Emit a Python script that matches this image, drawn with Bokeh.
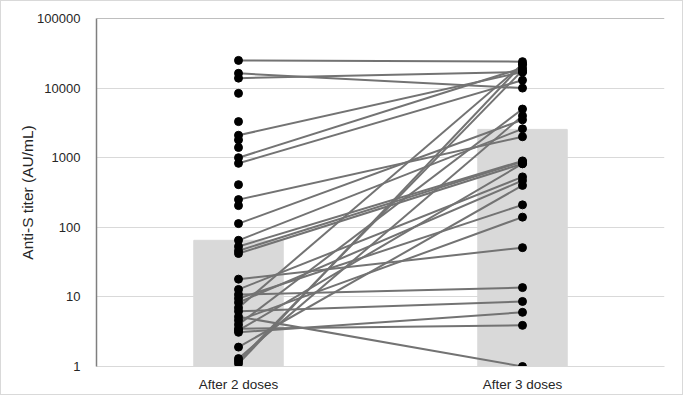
from bokeh.plotting import figure
from bokeh.models import FixedTicker, PrintfTickFormatter, Span
from bokeh.embed import file_html
from bokeh.resources import INLINE

categories = ["After 2 doses", "After 3 doses"]
bar_values = [65, 2550]

# paired subjects: titer after 2 doses -> after 3 doses
pre_paired = [25000, 16300, 13900, 2100, 1000, 830, 250, 113, 65, 53, 46, 42, 18,
              12.8, 10.8, 9.5, 8.3, 7.0, 6.2, 5.2, 4.6, 4.0, 3.5, 3.1, 3.3, 1.9, 1.3, 1.1, 1.2]
post_paired = [24000, 10000, 17000, 17000, 19500, 13000, 2000, 3500, 2600, 900, 880, 820, 51,
               530, 13.6, 210, 470, 22000, 8.6, 1.0, 140, 5000, 3.9, 6.0, 820, 400, 4000, 22000, 18000]
# subjects with a value after 2 doses only
pre_only = [8400, 3300, 1800, 1400, 410, 205]

p = figure(x_range=categories, y_axis_type="log", y_range=(1, 100000),
           frame_width=568, frame_height=348, output_backend="svg", toolbar_location=None,
           min_border_left=95, min_border_right=18, min_border_top=17, min_border_bottom=0)
p.styles = {"border": "1px solid #d9d9d9"}

p.vbar(x=categories, top=bar_values, bottom=1, width=0.315, color="#d9d9d9")

xs = [[categories[0], categories[1]] for _ in pre_paired]
ys = [[a, b] for a, b in zip(pre_paired, post_paired)]
p.multi_line(xs=xs, ys=ys, line_color="#737373", line_width=2)

left_pts = pre_paired + pre_only
p.scatter(x=[categories[0]] * len(left_pts), y=left_pts, size=8, color="black")
p.scatter(x=[categories[1]] * len(post_paired), y=post_paired, size=8, color="black")

p.add_layout(Span(location=100000, dimension="width", line_color="#7f7f7f", line_width=1))

p.yaxis.ticker = FixedTicker(ticks=[1, 10, 100, 1000, 10000, 100000])
p.yaxis.formatter = PrintfTickFormatter(format="%d")
p.yaxis.minor_tick_line_color = None
p.yaxis.major_tick_line_color = None
p.yaxis.axis_line_color = "#7f7f7f"
p.yaxis.axis_line_width = 1.5
p.yaxis.axis_label = "Anti-S titer (AU/mL)"
p.yaxis.axis_label_text_font = "Liberation Sans"
p.yaxis.axis_label_text_font_style = "normal"
p.yaxis.axis_label_text_font_size = "15.5px"
p.yaxis.axis_label_text_color = "#262626"
p.yaxis.axis_label_standoff = -2
p.yaxis.major_label_text_font = "Liberation Sans"
p.yaxis.major_label_text_font_size = "13px"
p.yaxis.major_label_text_color = "#262626"
p.yaxis.major_label_standoff = 10

p.xaxis.axis_line_color = "#d9d9d9"
p.xaxis.major_tick_line_color = None
p.xaxis.minor_tick_line_color = None
p.xaxis.major_label_text_font = "Liberation Sans"
p.xaxis.major_label_text_font_size = "13.5px"
p.xaxis.major_label_text_color = "#262626"
p.xaxis.major_label_standoff = 4

p.xgrid.grid_line_color = None
p.ygrid.grid_line_color = "#d9d9d9"
p.outline_line_color = None
p.background_fill_color = "white"

open("out.html", "w").write(file_html(p, INLINE))
